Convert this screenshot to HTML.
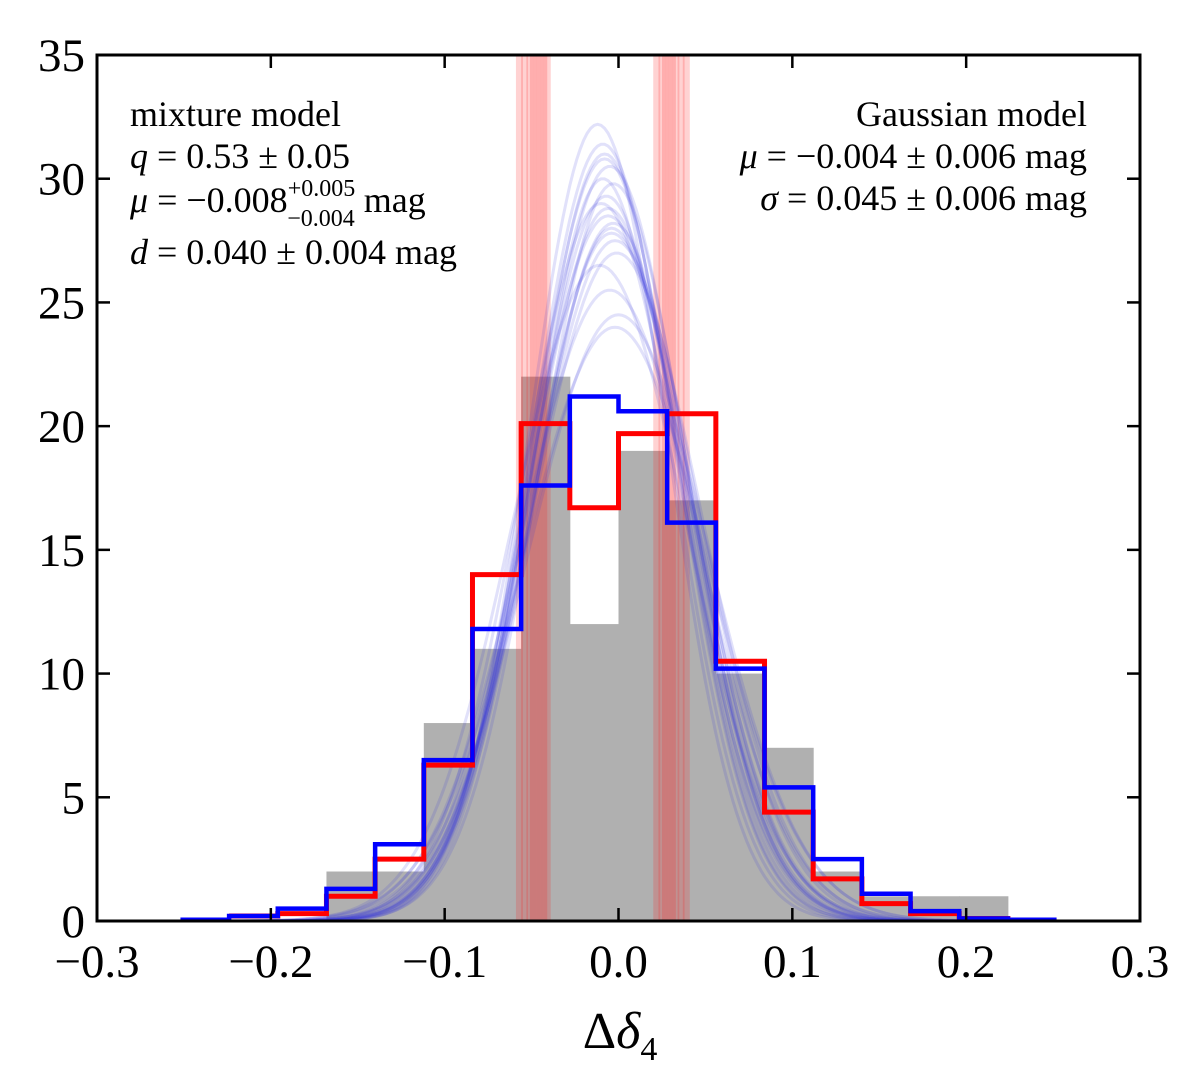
<!DOCTYPE html>
<html><head><meta charset="utf-8"><style>
html,body{margin:0;padding:0;background:#fff;}
svg text{font-family:"Liberation Serif",serif;fill:#000;}
</style></head><body>
<svg id="chart" width="1200" height="1083" viewBox="0 0 1200 1083" xmlns="http://www.w3.org/2000/svg">
<rect width="1200" height="1083" fill="#fff"/>
<g id="plot"></g>
</svg>
<script>
const binEdges=[-0.252,-0.224,-0.196,-0.168,-0.14,-0.112,-0.084,-0.056,-0.028,0,0.028,0.056,0.084,0.112,0.14,0.168,0.196,0.224,0.252];
const grayCounts=[0,0,0,2,2,8,11,22,12,19,17,10,7,2,1,1,1,0];
const redValues=[0,0.2,0.3,1.0,2.5,6.3,14,20.1,16.7,19.7,20.5,10.5,4.4,1.7,0.7,0.3,0.1,0];
const blueValues=[0.05,0.2,0.5,1.3,3.1,6.5,11.8,17.6,21.2,20.6,16.1,10.2,5.4,2.5,1.1,0.4,0.1,0.05];
const bandPositions=[-0.057,-0.054,-0.051,-0.049,-0.047,-0.045,-0.043,-0.041,0.022,0.025,0.027,0.029,0.031,0.033,0.036,0.039];
const curveMu=[-0.012,-0.008,-0.005,-0.010,-0.003,-0.006,-0.009,-0.004,-0.002,-0.007,-0.011,-0.001,-0.005,-0.008,-0.003,0.000,-0.006,-0.004,-0.009,-0.002];
const curveSigma=[0.040,0.042,0.044,0.046,0.043,0.047,0.041,0.045,0.048,0.044,0.050,0.049,0.051,0.043,0.046,0.052,0.045,0.047,0.042,0.053];
const curvePeak=[32.2,31.0,30.5,29.0,29.8,28.5,30.0,28.0,27.5,29.3,26.5,27.0,25.5,30.8,28.2,24.5,28.8,27.8,31.4,24.0];
const xTicks=[-0.3,-0.2,-0.1,0.0,0.1,0.2,0.3];
const xTickLabels=["\u22120.3","\u22120.2","\u22120.1","0.0","0.1","0.2","0.3"];
const yTicks=[0,5,10,15,20,25,30,35];
const yTickLabels=["0","5","10","15","20","25","30","35"];

const L=97,R=1140,T=55,B=921;
const xs=v=>L+(v+0.3)/0.6*(R-L);
const ys=v=>B-v/35*(B-T);
const NS="http://www.w3.org/2000/svg";
const g=document.getElementById('plot');
function mk(tag,attrs,parent){const e=document.createElementNS(NS,tag);for(const k in attrs)e.setAttribute(k,attrs[k]);(parent||g).appendChild(e);return e;}
const defs=mk('defs',{});const cp=mk('clipPath',{id:'clip'},defs);mk('rect',{x:L,y:T,width:R-L,height:B-T},cp);
const clipG=mk('g',{'clip-path':'url(#clip)'});

grayCounts.forEach((c,i)=>{if(c<=0)return;
 const r=mk('rect',{x:xs(binEdges[i]),y:ys(c),width:xs(binEdges[i+1])-xs(binEdges[i])+0.5,height:ys(0)-ys(c),fill:'#b0b0b0'},clipG);
 
 
});
bandPositions.forEach(p=>{
 const l=mk('line',{x1:xs(p),x2:xs(p),y1:T,y2:B,stroke:'#ff2020','stroke-opacity':0.2,'stroke-width':7},clipG);
 
 
});
curveMu.forEach((m,k)=>{
 let d='';for(let i=0;i<=300;i++){const x=-0.3+0.6*i/300;const y=curvePeak[k]*Math.exp(-0.5*((x-m)/curveSigma[k])**2);d+=(i?'L':'M')+xs(x).toFixed(1)+','+ys(y).toFixed(1);}
 const p=mk('path',{d:d,fill:'none',stroke:'#3333dd','stroke-opacity':0.15,'stroke-width':3},clipG);
 
 
});
function stepPath(vals,start){let d='';let first=true;
 for(let i=0;i<vals.length;i++){if(i<start)continue;const x0=xs(binEdges[i]),x1=xs(binEdges[i+1]),y=ys(vals[i]);
  if(first){d+='M'+x0+','+y;first=false;}else d+='L'+x0+','+y;d+='L'+x1+','+y;}
 return d;}
const rp=mk('path',{d:stepPath(redValues,1),fill:'none',stroke:'#ff0000','stroke-width':5},clipG);


const bp=mk('path',{d:stepPath(blueValues,0),fill:'none',stroke:'#0000ff','stroke-width':4.5},clipG);



const fr=mk('rect',{x:L,y:T,width:R-L,height:B-T,fill:'none',stroke:'#000','stroke-width':3});


xTicks.forEach((t,i)=>{const x=xs(t);
 mk('line',{x1:x,x2:x,y1:B,y2:B-13,stroke:'#000','stroke-width':2.5});
 mk('line',{x1:x,x2:x,y1:T,y2:T+13,stroke:'#000','stroke-width':2.5});
 const tx=mk('text',{x:x,y:B+56,'text-anchor':'middle','font-size':47});tx.textContent=xTickLabels[i];
 
 
});
yTicks.forEach((t,i)=>{const y=ys(t);
 mk('line',{x1:L,x2:L+13,y1:y,y2:y,stroke:'#000','stroke-width':2.5});
 mk('line',{x1:R,x2:R-13,y1:y,y2:y,stroke:'#000','stroke-width':2.5});
 const tx=mk('text',{x:L-12,y:y+16,'text-anchor':'end','font-size':47});tx.textContent=yTickLabels[i];
 
 
});
</script>
<svg style="position:absolute;left:0;top:0" width="1200" height="1083">
<text x="620" y="1048" text-anchor="middle" font-size="52">Δ<tspan font-style="italic">δ</tspan><tspan font-size="34" dy="12">4</tspan></text>
<g font-size="36">
<text x="130" y="126">mixture model</text>
<text x="130" y="168"><tspan font-style="italic">q</tspan> = 0.53 ± 0.05</text>
<text x="130" y="212"><tspan font-style="italic">μ</tspan> = −0.008<tspan font-size="24" dy="-16">+0.005</tspan><tspan font-size="24" dx="-68" dy="30">−0.004</tspan><tspan dy="-14"> mag</tspan></text>
<text x="130" y="264"><tspan font-style="italic">d</tspan> = 0.040 ± 0.004 mag</text>
</g>
<g font-size="36" text-anchor="end">
<text x="1087" y="126">Gaussian model</text>
<text x="1087" y="168"><tspan font-style="italic">μ</tspan> = −0.004 ± 0.006 mag</text>
<text x="1087" y="210"><tspan font-style="italic">σ</tspan> = 0.045 ± 0.006 mag</text>
</g>
</svg>
</body></html>
